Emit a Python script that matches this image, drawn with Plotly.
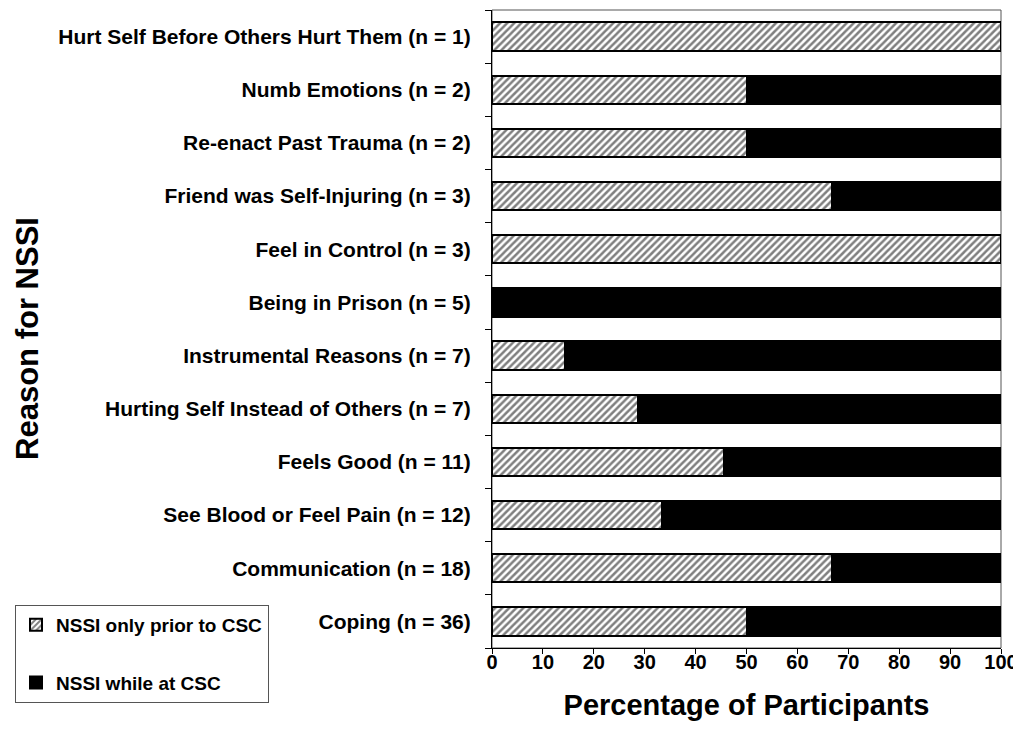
import plotly.graph_objects as go

categories = [
    "Coping (n = 36)",
    "Communication (n = 18)",
    "See Blood or Feel Pain (n = 12)",
    "Feels Good (n = 11)",
    "Hurting Self Instead of Others (n = 7)",
    "Instrumental Reasons (n = 7)",
    "Being in Prison (n = 5)",
    "Feel in Control (n = 3)",
    "Friend was Self-Injuring (n = 3)",
    "Re-enact Past Trauma (n = 2)",
    "Numb Emotions (n = 2)",
    "Hurt Self Before Others Hurt Them (n = 1)",
]
prior_only = [50.0, 66.7, 33.3, 45.5, 28.6, 14.3, 0.0, 100.0, 66.7, 50.0, 50.0, 100.0]
while_at_csc = [50.0, 33.3, 66.7, 54.5, 71.4, 85.7, 100.0, 0.0, 33.3, 50.0, 50.0, 0.0]
x_ticks = [0, 10, 20, 30, 40, 50, 60, 70, 80, 90, 100]

font = "Arial, Liberation Sans, sans-serif"

# page body has an 8px default margin, so the figure is sized 8px smaller
W, H = 1013, 732

fig = go.Figure()
fig.add_trace(go.Bar(
    y=categories, x=prior_only, orientation="h", name="NSSI only prior to CSC",
    legendgroup="a",
    marker=dict(color="white", line=dict(color="black", width=2),
                pattern=dict(shape="/", fgcolor="black", bgcolor="white", size=5, solidity=0.5)),
))
fig.add_trace(go.Bar(
    y=categories, x=while_at_csc, orientation="h", name="NSSI while at CSC",
    legendgroup="b",
    marker=dict(color="black", line=dict(color="black", width=2)),
))

fig.update_layout(
    barmode="stack",
    bargap=0.47,
    width=W, height=H,
    margin=dict(l=484, r=20, t=2, b=92, autoexpand=False),
    paper_bgcolor="white", plot_bgcolor="white",
    font=dict(family=font, color="black"),
    showlegend=True,
    legend=dict(
        xref="container", yref="container",
        x=7/W, y=1-597/H, xanchor="left", yanchor="top",
        bordercolor="#555555", borderwidth=1, bgcolor="white",
        font=dict(family=font, size=19, color="black", weight="bold"),
        traceorder="grouped",
        tracegroupgap=30, itemwidth=30,
    ),
    xaxis=dict(
        range=[0, 100], tickvals=x_ticks, ticktext=[str(v) for v in x_ticks],
        showgrid=False, zeroline=False, automargin=False,
        showline=True, linecolor="black", linewidth=1,
        ticks="outside", ticklen=5, tickcolor="black",
        ticklabelstandoff=-9,
        tickfont=dict(family=font, size=20, color="black", weight="bold"),
        title=dict(text="Percentage of Participants", standoff=22,
                   font=dict(family=font, size=29, color="black", weight="bold")),
    ),
    yaxis=dict(
        categoryorder="array", categoryarray=categories,
        showgrid=False, zeroline=False, automargin=False,
        showline=True, linecolor="black", linewidth=1,
        ticks="outside", ticklen=6, tickcolor="black", tickson="boundaries",
        tickfont=dict(family=font, size=21, color="black", weight="bold"),
        ticklabelstandoff=16,
    ),
    shapes=[dict(type="rect", xref="paper", yref="paper", x0=0, x1=1, y0=0, y1=1,
                 line=dict(color="#555555", width=1), fillcolor="rgba(0,0,0,0)", layer="below")],
    annotations=[dict(text="Reason for NSSI", xref="paper", yref="paper",
                      x=-0.9116, y=0.486, xanchor="center", yanchor="middle",
                      textangle=-90, showarrow=False,
                      font=dict(family=font, size=31, color="black", weight="bold"))],
)

fig.write_html("out.html")
